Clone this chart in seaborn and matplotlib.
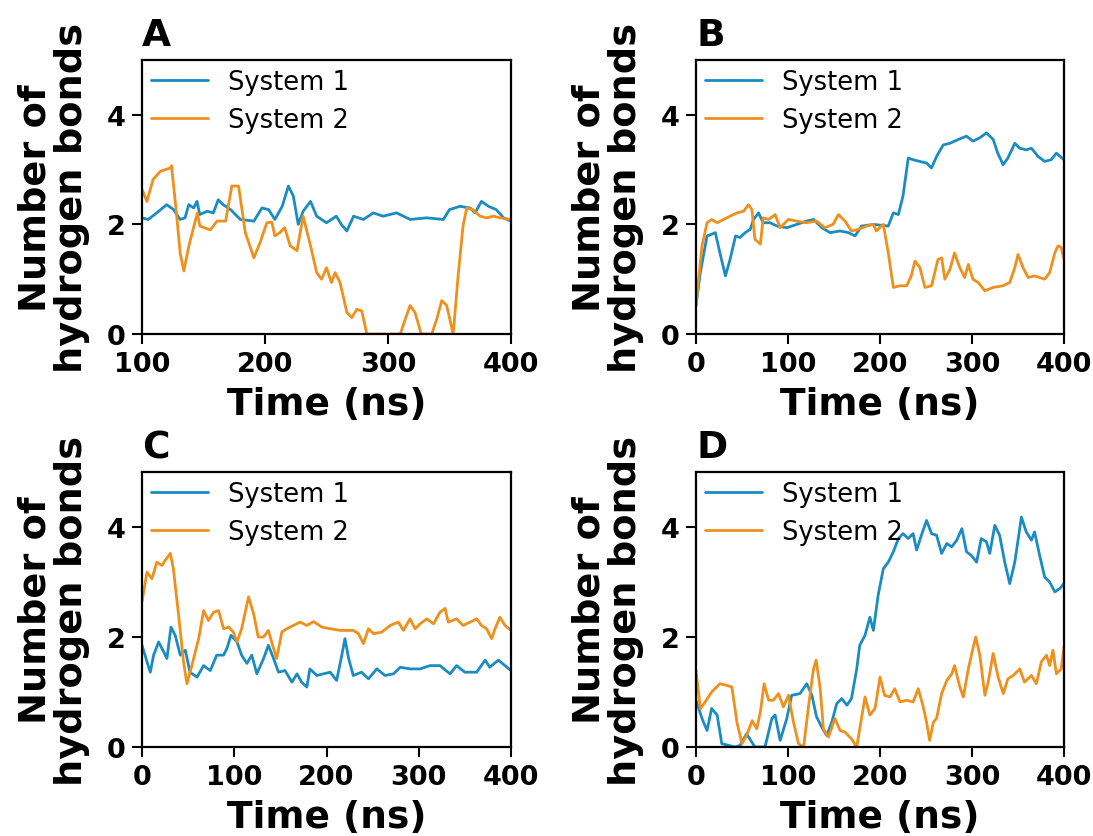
import numpy as np
import pandas as pd
import matplotlib
matplotlib.use("Agg")
import matplotlib.pyplot as plt
import seaborn as sns

# ---- Panel A (100-400 ns) ----
a_t1 = [100, 105, 112, 120, 125.7, 131, 135, 138, 142, 144.7, 147, 153, 158, 162, 166, 172, 180, 191,
        197.5, 203, 208, 214, 219, 223, 227, 231, 237, 242, 250, 258, 262, 266.5, 272, 280, 288, 296,
        307, 318, 331.5, 345, 350, 358.6, 366.7, 370.8, 376, 381.7, 388, 394, 400]
a_s1 = [2.12, 2.09, 2.21, 2.36, 2.27, 2.09, 2.12, 2.36, 2.30, 2.42, 2.18, 2.24, 2.21, 2.45, 2.36, 2.27,
        2.09, 2.06, 2.30, 2.27, 2.09, 2.33, 2.70, 2.52, 2.00, 2.24, 2.42, 2.15, 2.03, 2.15, 2.00, 1.88,
        2.15, 2.09, 2.21, 2.15, 2.21, 2.09, 2.12, 2.09, 2.27, 2.33, 2.30, 2.21, 2.42, 2.33, 2.27, 2.12, 2.06]
a_t2 = [100, 104, 109, 115, 123, 124, 128, 131, 134, 138, 145, 147, 155.5, 161, 168, 173, 178.5, 184,
        191, 196, 201.5, 205.6, 208, 212, 216, 220.5, 226, 228.6, 231, 237, 242, 246, 250, 254, 257,
        261, 266.6, 270.6, 274.6, 278.7, 282.8, 310, 314, 318, 322, 327, 335.6, 339.6, 343.7, 347.7,
        353, 357, 361, 364, 369, 374.8, 380, 385.7, 391, 400]
a_s2 = [2.64, 2.42, 2.82, 2.97, 3.03, 3.07, 2.21, 1.48, 1.15, 1.60, 2.21, 1.97, 1.90, 2.06, 2.06, 2.70,
        2.70, 1.85, 1.39, 1.67, 2.03, 2.04, 1.79, 1.85, 1.94, 1.61, 1.52, 1.85, 2.15, 1.61, 1.12, 1.00,
        1.21, 0.94, 1.12, 0.94, 0.39, 0.30, 0.45, 0.42, 0.00, 0.00, 0.27, 0.52, 0.39, 0.00, 0.00, 0.27,
        0.61, 0.52, 0.00, 1.06, 1.97, 2.30, 2.27, 2.15, 2.12, 2.15, 2.12, 2.09]

# ---- Panel B (0-400 ns) ----
b_t1 = [0, 4.7, 12, 17, 21, 26, 32, 37, 43, 48, 53.5, 59, 62.5, 68, 73, 80.6, 88, 98.7, 109.6, 120,
        127.7, 136.7, 145.7, 156.6, 165.6, 172.9, 180, 192.8, 209, 214.5, 220, 225, 230.7, 236, 243,
        250.6, 256, 261.5, 268.7, 276, 285, 294, 301, 308.5, 315.7, 323, 328, 333.8, 339, 346.5, 352,
        359, 364.6, 371.8, 379, 386, 391.7, 400]
b_s1 = [0.52, 1.12, 1.79, 1.82, 1.85, 1.48, 1.06, 1.36, 1.79, 1.76, 1.85, 1.91, 2.09, 2.21, 2.03, 2.03,
        1.97, 1.94, 2.00, 2.06, 2.09, 1.94, 1.85, 1.88, 1.85, 1.79, 1.97, 2.00, 1.97, 2.21, 2.18, 2.52,
        3.21, 3.18, 3.15, 3.12, 3.03, 3.24, 3.45, 3.48, 3.55, 3.61, 3.52, 3.58, 3.67, 3.55, 3.30, 3.09,
        3.21, 3.48, 3.39, 3.36, 3.39, 3.24, 3.15, 3.18, 3.30, 3.18]
b_t2 = [0, 6.5, 12, 17, 23, 30, 37, 44.5, 51.7, 57, 60.8, 64, 70, 73, 79, 86, 91.5, 100.5, 109.6, 120,
        131, 140, 149, 154.8, 162, 169, 176.5, 185.5, 192.8, 196, 203.6, 209, 214.5, 221.7, 229, 234,
        238, 243.4, 248.8, 256, 263, 267, 270.5, 276, 281, 286.8, 292, 296, 301, 306.7, 314, 323,
        333.8, 341, 346.5, 350, 355.5, 361, 368, 379, 384.4, 390, 393.5, 397, 400]
b_s2 = [0.52, 1.61, 2.03, 2.09, 2.03, 2.09, 2.15, 2.21, 2.24, 2.36, 2.27, 1.73, 1.64, 2.12, 2.09, 2.18,
        1.94, 2.09, 2.06, 2.03, 2.06, 1.94, 2.00, 2.18, 2.06, 1.88, 1.91, 1.97, 2.00, 1.88, 2.00, 1.48,
        0.85, 0.88, 0.88, 1.06, 1.33, 1.21, 0.85, 0.88, 1.36, 1.39, 1.00, 1.18, 1.48, 1.21, 1.03, 1.27,
        1.00, 0.94, 0.79, 0.85, 0.88, 0.94, 1.21, 1.45, 1.21, 1.03, 1.06, 1.00, 1.12, 1.48, 1.61, 1.58, 1.36]

# ---- Panel C (0-400 ns) ----
c_t1 = [0, 5.4, 9, 12.6, 18, 23.5, 27, 31.4, 36, 41.5, 47, 52, 59.6, 66.8, 74, 81, 88.4, 92, 96.4, 103,
        108, 113.7, 119, 124.5, 131.8, 137, 142.6, 148, 155, 162.5, 168, 173, 178.7, 182, 189.5, 196.7,
        204, 211, 216.6, 220, 224, 229, 238, 245.5, 254.5, 263.5, 272.6, 280, 290.6, 301.5, 312.3, 323,
        334, 341, 350, 362.8, 372, 377, 386.3, 393.5, 400]
c_s1 = [1.85, 1.55, 1.36, 1.67, 1.91, 1.73, 1.61, 2.18, 2.03, 1.67, 1.76, 1.36, 1.27, 1.48, 1.39, 1.67,
        1.67, 1.79, 2.03, 1.91, 1.67, 1.52, 1.67, 1.33, 1.61, 1.85, 1.61, 1.36, 1.39, 1.18, 1.33, 1.18,
        1.09, 1.42, 1.30, 1.33, 1.36, 1.21, 1.67, 1.97, 1.61, 1.30, 1.36, 1.24, 1.42, 1.30, 1.33, 1.45,
        1.42, 1.42, 1.48, 1.48, 1.33, 1.48, 1.36, 1.36, 1.58, 1.45, 1.58, 1.48, 1.39]
c_t2 = [0, 5.4, 10.8, 16, 21.7, 25, 30.7, 34, 39.7, 45, 48.7, 54, 61.4, 66.8, 72, 77.6, 83, 88.4, 94, 99,
        103, 108, 115.5, 121, 126, 131.8, 137, 142.6, 146, 151.6, 157, 164, 171.5, 178.7, 186, 195, 204,
        214.8, 229, 234.7, 240, 245.5, 251, 260, 269, 278, 283.4, 290.6, 296, 301.5, 308.7, 316, 323,
        328.5, 332, 341, 348, 355.6, 362.8, 368, 373.6, 379, 382.7, 388, 393.5, 400]
c_s2 = [2.64, 3.18, 3.06, 3.36, 3.30, 3.39, 3.52, 3.24, 2.39, 1.55, 1.15, 1.48, 1.97, 2.48, 2.30, 2.45,
        2.48, 2.15, 2.18, 2.09, 1.91, 2.15, 2.73, 2.42, 2.00, 2.00, 2.12, 1.79, 1.61, 2.09, 2.15, 2.21,
        2.27, 2.21, 2.28, 2.18, 2.15, 2.12, 2.12, 2.06, 1.88, 2.15, 2.06, 2.09, 2.21, 2.27, 2.12, 2.33,
        2.15, 2.24, 2.33, 2.24, 2.45, 2.52, 2.27, 2.33, 2.21, 2.27, 2.33, 2.21, 2.15, 1.97, 2.15, 2.36,
        2.21, 2.12]

# ---- Panel D (0-400 ns) ----
d_t1 = [0, 6.5, 12, 17, 23, 28, 35.4, 42.7, 48, 55, 64, 75, 82.5, 86, 91.5, 98.7, 104, 113, 120.4, 126,
        131, 136.7, 142, 147.6, 153, 158.4, 164, 169, 174.7, 178, 183.7, 189, 192.8, 198, 203.6, 209,
        214.5, 220, 225, 230.7, 236, 239.8, 245, 250.6, 256, 261.5, 267, 272.6, 278, 283.4, 289, 294,
        299.5, 305, 310, 315.7, 319.3, 324.8, 330, 335.6, 341, 346.5, 353.7, 359, 364.6, 368, 373.6,
        379, 384.4, 390, 395.3, 400]
d_s1 = [0.85, 0.52, 0.30, 0.70, 0.58, 0.06, 0.03, 0.00, 0.03, 0.24, 0.00, 0.00, 0.52, 0.58, 0.12, 0.52,
        0.94, 0.97, 1.15, 0.94, 0.55, 0.36, 0.21, 0.45, 0.79, 0.88, 0.76, 0.88, 1.42, 1.85, 2.03, 2.36,
        2.12, 2.76, 3.24, 3.36, 3.55, 3.79, 3.88, 3.79, 3.88, 3.58, 3.85, 4.12, 3.88, 3.85, 3.52, 3.70,
        3.64, 3.76, 3.97, 3.55, 3.48, 3.36, 3.79, 3.73, 3.52, 4.03, 3.85, 3.36, 2.97, 3.36, 4.18, 3.91,
        3.76, 3.91, 3.48, 3.09, 3.00, 2.82, 2.88, 2.97]
d_t2 = [0, 4.7, 10, 17, 26, 33.6, 39, 44.5, 50, 55, 61, 66, 70, 74, 79, 84, 89.7, 95, 100.5, 106, 111.4,
        117, 122, 127.7, 130.6, 135, 138.5, 144, 151, 156.6, 162, 169, 174.7, 178, 183.7, 189, 194.6,
        200, 205, 210.9, 216, 221.7, 229, 236, 241.6, 247, 250.6, 254, 258, 261.5, 267, 272.6, 278, 281,
        286.8, 290.6, 296, 301, 304, 308.5, 314, 317.6, 323, 328.4, 334, 339, 344.7, 352, 357, 364.6,
        370, 375.4, 381, 384.4, 388, 391.7, 397, 400]
d_s2 = [1.39, 0.70, 0.82, 1.00, 1.15, 1.12, 1.09, 0.45, 0.06, 0.21, 0.48, 0.33, 0.64, 1.15, 0.85, 0.85,
        0.97, 0.73, 0.94, 0.45, 0.06, 0.00, 0.70, 1.42, 1.58, 1.06, 0.33, 0.18, 0.52, 0.30, 0.27, 0.15,
        0.00, 0.33, 0.91, 0.58, 0.70, 1.27, 0.94, 0.91, 1.06, 0.82, 0.85, 0.82, 1.06, 0.73, 0.45, 0.12,
        0.45, 0.52, 0.97, 1.21, 1.33, 1.48, 1.09, 0.91, 1.42, 1.79, 2.00, 1.67, 0.94, 1.18, 1.70, 1.27,
        0.97, 1.24, 1.30, 1.42, 1.18, 1.30, 1.15, 1.55, 1.67, 1.48, 1.76, 1.33, 1.42, 1.82]

panel_letters = ["A", "B", "C", "D"]
series_names = ["System 1", "System 2"]
xlims = [(100, 400), (0, 400), (0, 400), (0, 400)]
xticks = [[100, 200, 300, 400], [0, 100, 200, 300, 400], [0, 100, 200, 300, 400], [0, 100, 200, 300, 400]]
yticks = [0, 2, 4]

panels = [
    (a_t1, a_s1, a_t2, a_s2),
    (b_t1, b_s1, b_t2, b_s2),
    (c_t1, c_s1, c_t2, c_s2),
    (d_t1, d_s1, d_t2, d_s2),
]

sns.set_style("ticks")
plt.rcParams["font.family"] = ["DejaVu Sans"]
plt.rcParams["text.color"] = "black"
plt.rcParams["axes.labelcolor"] = "black"
plt.rcParams["xtick.color"] = "black"
plt.rcParams["ytick.color"] = "black"
palette = {"System 1": "#1a8cc2", "System 2": "#ef8f1c"}

W, H = 1093, 837
fig = plt.figure(figsize=(W / 100, H / 100), dpi=100)

# axes boxes in pixel coordinates: left, top, right, bottom
boxes = [
    (142, 61, 511, 335),
    (696, 61, 1064, 335),
    (142, 473, 511, 748),
    (696, 473, 1064, 748),
]

for (t1, s1, t2, s2), box, letter, xl, xt in zip(panels, boxes, panel_letters, xlims, xticks):
    l, t, r, b = box
    ax = fig.add_axes([l / W, 1 - b / H, (r - l) / W, (b - t) / H])
    df = pd.concat([
        pd.DataFrame({"Time": t1, "Bonds": s1, "System": series_names[0]}),
        pd.DataFrame({"Time": t2, "Bonds": s2, "System": series_names[1]}),
    ])
    sns.lineplot(data=df, x="Time", y="Bonds", hue="System", palette=palette,
                 linewidth=2.0, ax=ax, estimator=None, sort=False)
    ax.set_xlim(*xl)
    ax.set_ylim(0, 5)
    ax.set_xticks(xt)
    ax.set_yticks(yticks)
    for s in ax.spines.values():
        s.set_visible(True)
        s.set_linewidth(1.6)
        s.set_color("black")
    ax.tick_params(axis="both", direction="out", length=7, width=1.5,
                   labelsize=19.5, pad=5, colors="black")
    for lab in ax.get_xticklabels() + ax.get_yticklabels():
        lab.set_fontweight("bold")
    ax.set_xlabel("Time (ns)", fontsize=27, fontweight="bold", labelpad=7)
    ax.set_ylabel("Number of\nhydrogen bonds", fontsize=27.5, fontweight="bold",
                  labelpad=12, linespacing=1.0)
    leg = ax.legend(loc="upper left", frameon=False, fontsize=18.5,
                    handlelength=2.2, handletextpad=0.8, borderaxespad=0.05,
                    borderpad=0.3, labelspacing=0.45)
    for line in leg.get_lines():
        line.set_linewidth(2.0)
    for txt in leg.get_texts():
        txt.set_color("black")
    ax.text(0.0, 1.025, letter, transform=ax.transAxes, fontsize=27,
            fontweight="bold", ha="left", va="bottom", color="black")

fig.savefig("out.png", dpi=100)
